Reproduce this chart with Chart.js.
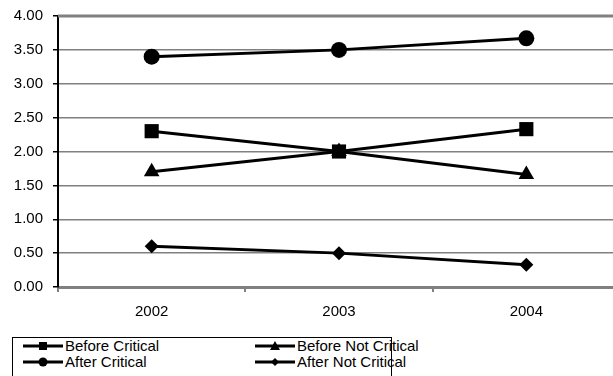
<!DOCTYPE html>
<html lang="en">
<head>
    <meta charset="UTF-8">
    <title>Critical / Not Critical 2002-2004</title>
    <script src="https://cdn.jsdelivr.net/npm/chart.js"></script>
    <style>
        html, body { margin: 0; padding: 0; background: #fff; overflow: hidden; }
        body { width: 613px; height: 376px; position: relative; font-family: "Liberation Sans", Arial, sans-serif; }
        #chart-box { position: absolute; left: 0; top: -3px; width: 630px; height: 333px; }
        #legend {
            position: absolute; left: 12px; top: 337px; width: 380px; height: 60px;
            border: 1px solid #000; box-sizing: border-box; font-size: 15px; color: #000;
        }
        .row { display: flex; height: 16px; line-height: 16px; white-space: nowrap; }
        .item { display: flex; align-items: center; white-space: nowrap; flex: none; }
        .item svg { display: block; margin-right: 2px; }
        .col1 { margin-left: 10px; width: 232px; }
    </style>
</head>
<body>
    <div id="chart-box"><canvas id="chart"></canvas></div>
    <div id="legend"></div>

    <script>
        // data
        const years = ['2002', '2003', '2004'];
        const beforeCritical = [2.30, 2.00, 2.33];
        const beforeNotCritical = [1.70, 2.00, 1.66];
        const afterCritical = [3.40, 3.50, 3.67];
        const afterNotCritical = [0.60, 0.50, 0.33];

        const series = [
            { label: 'Before Critical', data: beforeCritical, style: 'rect', r: 10 },
            { label: 'Before Not Critical', data: beforeNotCritical, style: 'triangle', r: 9 },
            { label: 'After Critical', data: afterCritical, style: 'circle', r: 8 },
            { label: 'After Not Critical', data: afterNotCritical, style: 'rectRot', r: 7 }
        ];

        // thick grey line along the top of the plot area
        const topLine = {
            id: 'topLine',
            beforeDatasetsDraw(chart) {
                const { ctx, chartArea } = chart;
                ctx.save();
                ctx.strokeStyle = '#808080';
                ctx.lineWidth = 3;
                ctx.beginPath();
                ctx.moveTo(chartArea.left, chartArea.top);
                ctx.lineTo(chartArea.right, chartArea.top);
                ctx.stroke();
                ctx.restore();
            }
        };

        new Chart(document.getElementById('chart'), {
            type: 'line',
            data: {
                labels: years,
                datasets: series.map(s => ({
                    label: s.label,
                    data: s.data,
                    borderColor: '#000',
                    backgroundColor: '#000',
                    borderWidth: 3,
                    pointStyle: s.style,
                    pointRadius: s.r,
                    pointBorderWidth: 0,
                    tension: 0
                }))
            },
            options: {
                responsive: true,
                maintainAspectRatio: false,
                animation: false,
                layout: { padding: { top: 8, right: 8, left: 0, bottom: 0 } },
                plugins: { legend: { display: false }, tooltip: { enabled: false } },
                scales: {
                    x: {
                        offset: true,
                        grid: { offset: true, drawOnChartArea: false, drawTicks: true, tickLength: 5, color: '#808080', lineWidth: 2 },
                        border: { color: '#808080', width: 3 },
                        ticks: { color: '#000', font: { family: '"Liberation Sans", Arial', size: 15 }, padding: 11 },
                        afterFit: scale => { scale.height = 43; }
                    },
                    y: {
                        min: 0,
                        max: 4,
                        ticks: {
                            stepSize: 0.5,
                            color: '#000',
                            padding: 10,
                            font: { family: '"Liberation Sans", Arial', size: 15 },
                            callback: v => Number(v).toFixed(2)
                        },
                        grid: {
                            color: '#808080',
                            lineWidth: 1.5,
                            tickLength: 5,
                            tickColor: '#000',
                            tickWidth: 1.5
                        },
                        border: { color: '#000', width: 2 },
                        afterFit: scale => { scale.width = 58; }
                    }
                }
            },
            plugins: [topLine]
        });

        // legend markup
        function marker(style) {
            let shape = '';
            if (style === 'rect') shape = '<rect x="16" y="4" width="8" height="8" fill="#000"/>';
            if (style === 'triangle') shape = '<polygon points="20,3 25,12 15,12" fill="#000"/>';
            if (style === 'circle') shape = '<circle cx="20" cy="8" r="4.5" fill="#000"/>';
            if (style === 'rectRot') shape = '<polygon points="20,4 24,8 20,12 16,8" fill="#000"/>';
            return '<svg width="40" height="16"><line x1="0" y1="8" x2="40" y2="8" stroke="#000" stroke-width="3"/>' + shape + '</svg>';
        }
        const order = [[0, 1], [2, 3]];
        document.getElementById('legend').innerHTML = order.map(r =>
            '<div class="row">' + r.map((i, c) =>
                '<div class="item' + (c === 0 ? ' col1' : '') + '">' + marker(series[i].style) + '<span>' + series[i].label + '</span></div>'
            ).join('') + '</div>'
        ).join('');
    </script>
</body>
</html>
